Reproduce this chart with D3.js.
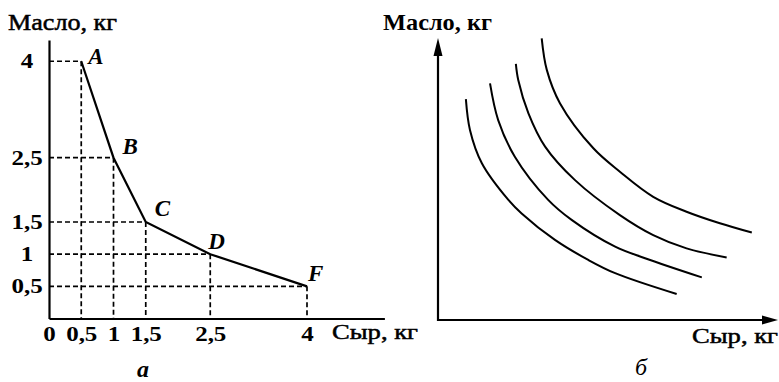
<!DOCTYPE html>
<html>
<head>
<meta charset="utf-8">
<script src="https://cdn.jsdelivr.net/npm/d3@7"></script>
<style>
  body { margin: 0; background: #fff; }
</style>
</head>
<body>
<div id="wrapper"></div>
<script>
// ---- chart "а": points of the production line ----
const cheese = [0.5, 1, 1.5, 2.5, 4];
const butter = [4, 2.5, 1.5, 1, 0.5];
const pointNames = ['A', 'B', 'C', 'D', 'F'];
const xTickValues = [0, 0.5, 1, 1.5, 2.5, 4];
const xTickLabels = ['0', '0,5', '1', '1,5', '2,5', '4'];
const yTickValues = [4, 2.5, 1.5, 1, 0.5];
const yTickLabels = ['4', '2,5', '1,5', '1', '0,5'];

// ---- chart "б": indifference curves [cheese, butter] ----
const curve1 = [[0.82, 7.83], [0.94, 6.74], [1.29, 5.56], [2.07, 4.26], [2.46, 3.78],
                [3.44, 2.84], [4.42, 2.13], [5.21, 1.66], [7.02, 0.92]];
const curve2 = [[1.53, 8.39], [1.77, 7.09], [2.26, 5.79], [3.24, 4.26], [3.93, 3.55],
                [5.21, 2.60], [6.09, 2.19], [7.76, 1.51]];
const curve3 = [[2.29, 9.08], [2.36, 8.51], [2.66, 7.33], [3.15, 6.15], [4.03, 4.96],
                [5.35, 3.72], [6.33, 3.01], [7.31, 2.54], [8.49, 2.22]];
const curve4 = [[3.05, 9.99], [3.20, 8.87], [3.59, 7.68], [4.57, 6.09],
                [5.35, 5.26], [6.33, 4.37], [7.31, 3.84], [8.29, 3.43], [9.23, 3.10]];

function drawCharts() {
    const width = 779;
    const height = 382;
    const font = "'Liberation Serif', 'DejaVu Serif', serif";
    const stretch = 1.25; // tick digits in the picture are wide
    // offsets of the point letters from their points
    const nameOffset = { A: [7, 3], B: [9, -4], C: [9, -6], D: [-2, -5], F: [1, -5] };

    const svg = d3.select('#wrapper')
        .append('svg')
        .attr('width', width)
        .attr('height', height)
        .style('font-family', font);

    // 1. Left chart scales
    const xScale = d3.scaleLinear()
        .domain([0, 5.2])
        .range([49, 384.4]);
    const yScale = d3.scaleLinear()
        .domain([0, 4.33])
        .range([318.5, 40]);

    // 2. Dashed guides
    const guides = svg.append('g')
        .attr('stroke', '#000')
        .attr('stroke-width', 1.7)
        .attr('stroke-dasharray', '5,3');
    cheese.forEach((c, i) => {
        guides.append('line')
            .attr('x1', xScale(0)).attr('y1', yScale(butter[i]))
            .attr('x2', xScale(c)).attr('y2', yScale(butter[i]));
        guides.append('line')
            .attr('x1', xScale(c)).attr('y1', yScale(butter[i]))
            .attr('x2', xScale(c)).attr('y2', yScale(0));
    });

    // 3. Axes
    const xAxis = svg.append('g')
        .attr('transform', `translate(0,${yScale(0)})`)
        .call(d3.axisBottom(xScale)
            .tickValues(xTickValues)
            .tickFormat((d, i) => xTickLabels[i])
            .tickSize(0)
            .tickSizeOuter(0)
            .tickPadding(8));
    const yAxis = svg.append('g')
        .attr('transform', `translate(${xScale(0)},0)`)
        .call(d3.axisLeft(yScale)
            .tickValues(yTickValues)
            .tickFormat((d, i) => yTickLabels[i])
            .tickSize(0)
            .tickSizeOuter(0));
    [xAxis, yAxis].forEach(ax => {
        ax.attr('font-family', font).attr('font-size', 20).attr('font-weight', 'bold');
        ax.select('.domain').attr('stroke', '#000').attr('stroke-width', 2.2);
        ax.selectAll('text')
            .attr('fill', '#000')
            .attr('transform', `scale(${stretch},1)`);
    });
    yAxis.selectAll('text')
        .attr('text-anchor', 'middle')
        .attr('x', -22 / stretch)
        .attr('dy', '0.33em');

    // 4. Production line
    const lineDrawer = d3.line()
        .x((d, i) => xScale(cheese[i]))
        .y(d => yScale(d));
    svg.append('path')
        .attr('d', lineDrawer(butter))
        .attr('fill', 'none')
        .attr('stroke', '#000')
        .attr('stroke-width', 2.2);

    svg.append('g')
        .selectAll('text')
        .data(pointNames)
        .join('text')
        .attr('x', (d, i) => xScale(cheese[i]) + nameOffset[d][0])
        .attr('y', (d, i) => yScale(butter[i]) + nameOffset[d][1])
        .attr('font-size', 23)
        .attr('font-style', 'italic')
        .attr('font-weight', 'bold')
        .text(d => d);

    // 5. Left titles
    svg.append('text')
        .attr('x', 8).attr('y', 30)
        .attr('font-size', 23)
        .attr('stroke', '#000').attr('stroke-width', 0.5)
        .attr('textLength', 109)
        .attr('lengthAdjust', 'spacingAndGlyphs')
        .text('Масло, кг');
    svg.append('text')
        .attr('x', 332).attr('y', 339)
        .attr('font-size', 22)
        .attr('stroke', '#000').attr('stroke-width', 0.5)
        .attr('textLength', 86)
        .attr('lengthAdjust', 'spacingAndGlyphs')
        .text('Сыр, кг');
    svg.append('text')
        .attr('x', 143).attr('y', 377)
        .attr('text-anchor', 'middle')
        .attr('font-size', 24)
        .attr('font-style', 'italic')
        .attr('font-weight', 'bold')
        .text('а');

    // 6. Right chart scales
    const xR = d3.scaleLinear()
        .domain([0, 10])
        .range([438, 778]);
    const yR = d3.scaleLinear()
        .domain([0, 10])
        .range([320, 38]);

    // 7. Right axes with arrows
    const axesR = svg.append('g');
    axesR.append('line')
        .attr('x1', xR(0)).attr('y1', yR(0) + 1)
        .attr('x2', xR(0)).attr('y2', yR(10) + 10)
        .attr('stroke', '#000').attr('stroke-width', 2.2);
    axesR.append('line')
        .attr('x1', xR(0) - 1).attr('y1', yR(0))
        .attr('x2', xR(10) - 10).attr('y2', yR(0))
        .attr('stroke', '#000').attr('stroke-width', 2.2);
    axesR.append('path')
        .attr('d', `M${xR(0)},${yR(10)}L${xR(0) - 4.5},${yR(10) + 18}L${xR(0) + 4.5},${yR(10) + 18}Z`)
        .attr('fill', '#000');
    axesR.append('path')
        .attr('d', `M${xR(10)},${yR(0)}L${xR(10) - 16},${yR(0) - 4.5}L${xR(10) - 16},${yR(0) + 4.5}Z`)
        .attr('fill', '#000');

    // 8. Indifference curves
    const curveDrawer = d3.line()
        .x(d => xR(d[0]))
        .y(d => yR(d[1]))
        .curve(d3.curveCatmullRom.alpha(0.5));
    svg.append('g')
        .selectAll('path')
        .data([curve1, curve2, curve3, curve4])
        .join('path')
        .attr('d', curveDrawer)
        .attr('fill', 'none')
        .attr('stroke', '#000')
        .attr('stroke-width', 2);

    // 9. Right titles
    svg.append('text')
        .attr('x', 383).attr('y', 30)
        .attr('font-size', 23)
        .attr('font-weight', 'bold')
        .attr('textLength', 109)
        .attr('lengthAdjust', 'spacingAndGlyphs')
        .text('Масло, кг');
    svg.append('text')
        .attr('x', 692).attr('y', 343)
        .attr('font-size', 22)
        .attr('stroke', '#000').attr('stroke-width', 0.5)
        .attr('textLength', 86)
        .attr('lengthAdjust', 'spacingAndGlyphs')
        .text('Сыр, кг');
    svg.append('text')
        .attr('x', 641).attr('y', 375)
        .attr('text-anchor', 'middle')
        .attr('font-size', 24)
        .attr('font-style', 'italic')
        .text('б');
}

drawCharts();
</script>
</body>
</html>
